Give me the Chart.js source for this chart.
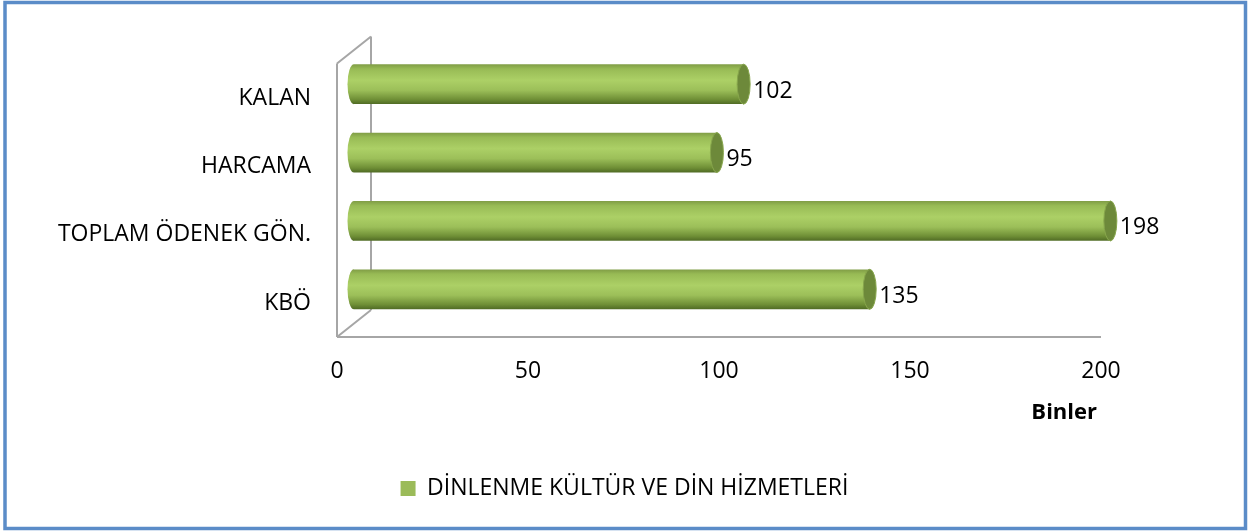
<!DOCTYPE html>
<html>
<head>
<meta charset="utf-8">
<script src="https://cdn.jsdelivr.net/npm/chart.js@4/dist/chart.umd.min.js"></script>
<style>
  html, body { margin: 0; padding: 0; background: #fff; }
  #wrap { width: 1249px; height: 532px; position: relative; }
</style>
</head>
<body>
<div id="wrap"><canvas id="grafik" width="1249" height="532"></canvas></div>
<script>
// Veriler
const kategoriler = ["KALAN", "HARCAMA", "TOPLAM ÖDENEK GÖN.", "KBÖ"];
const degerler = [102, 95, 198, 135];
const seriAdi = "DİNLENME KÜLTÜR VE DİN HİZMETLERİ";
const eksenBirimi = "Binler";

const yazi = "'Open Sans', 'Noto Sans', sans-serif";
const derinlik = { dx: 17, dy: 13.5 };
const barYari = 20;

function silindirDolgu(ctx, ust, alt) {
  const g = ctx.createLinearGradient(0, ust, 0, alt);
  g.addColorStop(0, "#7f9c45");
  g.addColorStop(0.12, "#98bb55");
  g.addColorStop(0.4, "#acd066");
  g.addColorStop(0.65, "#9cbf59");
  g.addColorStop(0.88, "#6f8f36");
  g.addColorStop(1, "#4f6a24");
  return g;
}

const cercevePlugin = {
  id: "cerceve",
  beforeDraw(chart) {
    const c = chart.ctx;
    c.save();
    c.fillStyle = "#fff";
    c.fillRect(0, 0, chart.width, chart.height);
    c.strokeStyle = "#5b8cc8";
    c.lineWidth = 3.5;
    c.strokeRect(5, 2.5, 1240.5, 526);
    c.restore();
  }
};

const silindirPlugin = {
  id: "silindir",
  beforeDatasetsDraw(chart) {
    const c = chart.ctx;
    const xs = chart.scales.x;
    const area = chart.chartArea;
    const sifir = xs.getPixelForValue(0);
    const onX = sifir - derinlik.dx, arkaX = sifir + derinlik.dx;
    const arkaUst = area.top - derinlik.dy, onUst = area.top + derinlik.dy;
    const arkaZemin = area.bottom - derinlik.dy, onZemin = area.bottom + derinlik.dy;
    c.save();
    c.strokeStyle = "#a6a6a6";
    c.lineWidth = 2;
    c.beginPath();
    c.moveTo(arkaX, arkaUst); c.lineTo(arkaX, arkaZemin);
    c.moveTo(arkaX, arkaUst); c.lineTo(onX, onUst);
    c.moveTo(onX, onUst); c.lineTo(onX, onZemin);
    c.moveTo(arkaX, arkaZemin); c.lineTo(onX, onZemin);
    c.moveTo(onX, onZemin); c.lineTo(xs.getPixelForValue(xs.max) - derinlik.dx, onZemin);
    c.stroke();

    // silindirlerin sol yuvarlak ucu
    chart.getDatasetMeta(0).data.forEach(bar => {
      const p = bar.getProps(["y", "base"], true);
      c.beginPath();
      c.ellipse(p.base, p.y, 6.5, barYari, 0, Math.PI / 2, Math.PI * 1.5);
      c.closePath();
      c.fillStyle = silindirDolgu(c, p.y - barYari, p.y + barYari);
      c.fill();
    });
    c.restore();
  },
  afterDatasetsDraw(chart) {
    const c = chart.ctx;
    c.save();
    chart.getDatasetMeta(0).data.forEach((bar, i) => {
      const p = bar.getProps(["x", "y"], true);
      c.beginPath();
      c.ellipse(p.x, p.y, 6.5, barYari, 0, 0, Math.PI * 2);
      c.fillStyle = "#6d893a";
      c.fill();
      c.strokeStyle = "#87a64c";
      c.lineWidth = 1;
      c.stroke();

      c.fillStyle = "#000";
      c.font = "23px " + yazi;
      c.textAlign = "left";
      c.textBaseline = "middle";
      c.fillText(String(degerler[i]), p.x + 9.5, p.y + 7);
    });

    // eksen birimi
    const xs = chart.scales.x;
    c.font = "bold 22px " + yazi;
    c.textAlign = "right";
    c.textBaseline = "middle";
    c.fillStyle = "#000";
    c.fillText(eksenBirimi, xs.getPixelForValue(xs.max) - 21, 413);
    c.restore();
  }
};

new Chart(document.getElementById("grafik").getContext("2d"), {
  type: "bar",
  data: {
    labels: kategoriler,
    datasets: [{
      label: seriAdi,
      data: degerler,
      backgroundColor: (ctx) => {
        const chart = ctx.chart;
        if (!chart.chartArea || ctx.type !== "data") return "#9bbb59";
        const y = chart.scales.y.getPixelForValue(ctx.dataIndex);
        return silindirDolgu(chart.ctx, y - barYari, y + barYari);
      },
      borderWidth: 0,
      categoryPercentage: 1,
      barPercentage: 0.583
    }]
  },
  options: {
    indexAxis: "y",
    responsive: false,
    animation: false,
    layout: { padding: { top: 50, right: 0, left: 0, bottom: 22 } },
    scales: {
      x: {
        min: 0,
        max: 200,
        grid: { display: false, drawTicks: false },
        border: { display: false },
        ticks: {
          stepSize: 50,
          padding: 34,
          labelOffset: -17,
          color: "#000",
          font: { family: yazi, size: 23 }
        },
        afterFit(s) { s.height = 143.5; s.paddingLeft = 0; s.paddingRight = 0; }
      },
      y: {
        grid: { display: false, drawTicks: false },
        border: { display: false },
        ticks: {
          padding: 43,
          labelOffset: 14,
          color: "#000",
          font: { family: yazi, size: 23 }
        },
        afterFit(s) { s.width = 354; s.paddingTop = 0; s.paddingBottom = 0; }
      },
      // sağdaki boşluk için görünmez eksen
      ySag: {
        type: "category",
        position: "right",
        grid: { display: false, drawTicks: false },
        border: { display: false },
        ticks: { display: false },
        afterFit(s) { s.width = 131; s.paddingTop = 0; s.paddingBottom = 0; }
      }
    },
    plugins: {
      legend: {
        position: "bottom",
        labels: {
          boxWidth: 15,
          boxHeight: 15,
          padding: 10,
          color: "#000",
          font: { family: yazi, size: 23 },
          generateLabels: () => [{
            text: seriAdi,
            fillStyle: "#9bbb59",
            strokeStyle: "#9bbb59",
            lineWidth: 0,
            hidden: false,
            datasetIndex: 0
          }]
        }
      },
      tooltip: { enabled: false }
    }
  },
  plugins: [cercevePlugin, silindirPlugin]
});
</script>
</body>
</html>
